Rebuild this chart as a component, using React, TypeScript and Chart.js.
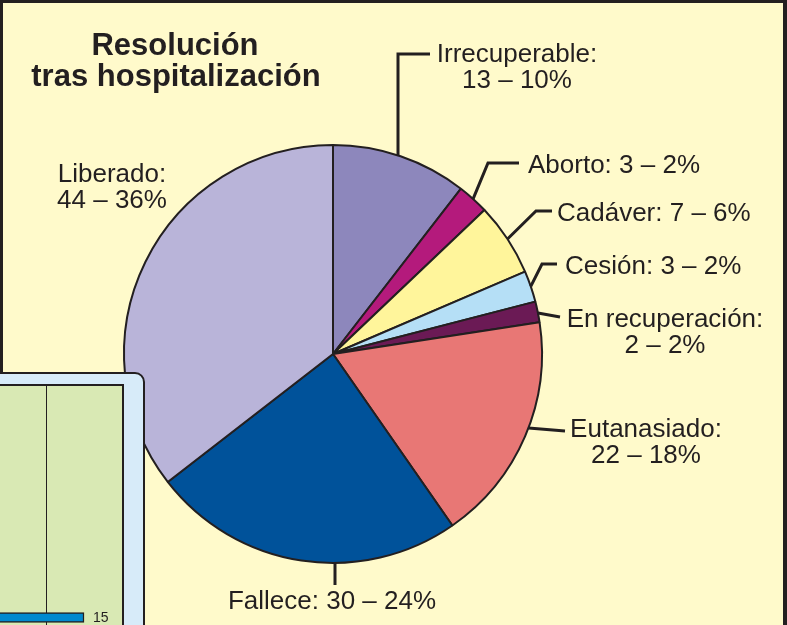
import React, { useEffect, useRef } from "react";
import { Chart, registerables } from "chart.js";

Chart.register(...registerables);

// ---------- data ----------
const titleLines = ["Resolución", "tras hospitalización"];
const categories = [
  "Irrecuperable",
  "Aborto",
  "Cadáver",
  "Cesión",
  "En recuperación",
  "Eutanasiado",
  "Fallece",
  "Liberado",
];
const counts = [13, 3, 7, 3, 2, 22, 30, 44];
const percents = [10, 2, 6, 2, 2, 18, 24, 36];
const sliceColors = [
  "#8D87BC",
  "#B41A7C",
  "#FFF59B",
  "#B5DFF6",
  "#6B1A55",
  "#E87775",
  "#00529A",
  "#B9B4D9",
];

// inset (partial second chart)
const insetCategories = [""];
const insetValues = [15];
const insetMax = 20;
const insetStep = 10;

// ---------- styling / layout ----------
const INK = "#231F20";
const BG = "#FFFACB";
const FONT = '"Liberation Sans", Arial, Helvetica, sans-serif';

type LabelLayout = {
  leader?: number[][];
  vertical?: boolean;
  atY?: number;
  x: number;
  y: number;
  twoLines: boolean;
  align?: CanvasTextAlign;
};

const labelLayout: LabelLayout[] = [
  { leader: [[398, 54], [430, 54]], vertical: true, x: 517, y: 62, twoLines: true },
  { leader: [[488, 163], [519, 163]], x: 528, y: 173, twoLines: false },
  { leader: [[536, 211], [552, 211]], x: 557, y: 221, twoLines: false },
  { leader: [[542, 264], [557, 264]], x: 565, y: 274, twoLines: false },
  { leader: [[560, 317]], atY: 313, x: 665, y: 327, twoLines: true },
  { leader: [[565, 431]], atY: 428, x: 646, y: 437, twoLines: true },
  { leader: [[335, 585]], vertical: true, x: 332, y: 609, twoLines: false, align: "center" },
  { x: 112, y: 182, twoLines: true },
];

const labelPlugin = {
  id: "pieLabels",
  afterDraw(chart: any) {
    const ctx: CanvasRenderingContext2D = chart.ctx;
    const meta = chart.getDatasetMeta(0);
    ctx.save();
    ctx.strokeStyle = INK;
    ctx.fillStyle = INK;
    ctx.lineWidth = 3;
    ctx.lineCap = "butt";
    ctx.lineJoin = "miter";
    ctx.font = `26px ${FONT}`;
    meta.data.forEach((arc: any, i: number) => {
      const L = labelLayout[i];
      if (!L) return;
      const { x: cx, y: cy, startAngle, endAngle, outerRadius } = arc.getProps(
        ["x", "y", "startAngle", "endAngle", "outerRadius"],
        true
      );
      if (L.leader) {
        const first = L.leader[0];
        let sx: number;
        let sy: number;
        if (L.vertical) {
          const dx = first[0] - cx;
          const dy = Math.sqrt(Math.max(outerRadius * outerRadius - dx * dx, 0));
          sx = first[0];
          sy = first[1] < cy ? cy - dy : cy + dy;
        } else if (L.atY !== undefined) {
          const dy = L.atY - cy;
          const dx = Math.sqrt(Math.max(outerRadius * outerRadius - dy * dy, 0));
          sx = first[0] > cx ? cx + dx : cx - dx;
          sy = L.atY;
        } else {
          const a = (startAngle + endAngle) / 2;
          sx = cx + Math.cos(a) * outerRadius;
          sy = cy + Math.sin(a) * outerRadius;
        }
        ctx.beginPath();
        ctx.moveTo(sx, sy);
        L.leader.forEach((p) => ctx.lineTo(p[0], p[1]));
        ctx.stroke();
      }
      const name = categories[i];
      const val = `${counts[i]} – ${percents[i]}%`;
      ctx.textBaseline = "alphabetic";
      if (L.twoLines) {
        ctx.textAlign = "center";
        ctx.fillText(`${name}:`, L.x, L.y);
        ctx.fillText(val, L.x, L.y + 26);
      } else {
        ctx.textAlign = L.align || "left";
        ctx.fillText(`${name}: ${val}`, L.x, L.y);
      }
    });
    ctx.font = `bold 31px ${FONT}`;
    ctx.textAlign = "center";
    ctx.textBaseline = "alphabetic";
    ctx.fillText(titleLines[0], 175, 55);
    ctx.fillText(titleLines[1], 176, 86);
    ctx.restore();
  },
};

const insetLabelPlugin = {
  id: "insetLabels",
  afterDatasetsDraw(chart: any) {
    const ctx: CanvasRenderingContext2D = chart.ctx;
    const meta = chart.getDatasetMeta(0);
    ctx.save();
    ctx.fillStyle = INK;
    ctx.font = `14px ${FONT}`;
    ctx.textAlign = "left";
    ctx.textBaseline = "middle";
    meta.data.forEach((bar: any, i: number) => {
      ctx.fillText(String(insetValues[i]), bar.x + 9, bar.y + 1);
    });
    ctx.restore();
  },
};

export default function App() {
  const pieRef = useRef<HTMLCanvasElement | null>(null);
  const insetRef = useRef<HTMLCanvasElement | null>(null);

  useEffect(() => {
    if (!pieRef.current || !insetRef.current) return;
    const pie = new Chart(pieRef.current, {
      type: "pie",
      data: {
        labels: categories,
        datasets: [
          {
            data: counts,
            backgroundColor: sliceColors,
            borderColor: INK,
            borderWidth: 2,
            borderAlign: "center",
          },
        ],
      },
      options: {
        responsive: false,
        animation: false,
        layout: { padding: { left: 123, right: 244, top: 144, bottom: 61 } },
        plugins: { legend: { display: false }, tooltip: { enabled: false } },
      },
      plugins: [labelPlugin],
    } as any);

    const inset = new Chart(insetRef.current, {
      type: "bar",
      data: {
        labels: insetCategories,
        datasets: [
          {
            data: insetValues,
            backgroundColor: "#0089CF",
            borderColor: INK,
            borderWidth: 1.5,
            barThickness: 10,
          },
        ],
      },
      options: {
        indexAxis: "y",
        responsive: false,
        animation: false,
        layout: { padding: 0 },
        plugins: { legend: { display: false }, tooltip: { enabled: false } },
        scales: {
          x: {
            min: 0,
            max: insetMax,
            ticks: { display: false, stepSize: insetStep },
            grid: {
              drawTicks: false,
              lineWidth: 1,
              color: (c: any) => (c.tick && c.tick.value === insetStep ? INK : "rgba(0,0,0,0)"),
            },
            border: { display: false },
          },
          y: { display: false },
        },
      },
      plugins: [insetLabelPlugin],
    } as any);

    return () => {
      pie.destroy();
      inset.destroy();
    };
  }, []);

  return (
    <div
      style={{
        position: "fixed",
        left: 0,
        top: 0,
        width: 787,
        height: 625,
        overflow: "hidden",
        background: BG,
      }}
    >
      <div
        style={{
          position: "absolute",
          left: 0,
          top: 0,
          width: 787,
          height: 700,
          boxSizing: "border-box",
          borderTop: `3px solid ${INK}`,
          borderLeft: `3px solid ${INK}`,
          borderRight: `4px solid ${INK}`,
        }}
      />
      <canvas
        ref={pieRef}
        width={787}
        height={625}
        style={{ position: "absolute", left: 0, top: 0, width: 787, height: 625 }}
      />
      <div
        style={{
          position: "absolute",
          left: -20,
          top: 372,
          width: 165,
          height: 400,
          boxSizing: "border-box",
          background: "#D7EBF9",
          border: `2.5px solid ${INK}`,
          borderRadius: 10,
        }}
      />
      <div
        style={{
          position: "absolute",
          left: -20,
          top: 384,
          width: 144,
          height: 400,
          boxSizing: "border-box",
          background: "#D9E9B4",
          border: `2.5px solid ${INK}`,
        }}
      />
      <canvas
        ref={insetRef}
        width={152}
        height={465}
        style={{ position: "absolute", left: -30, top: 385, width: 152, height: 465 }}
      />
    </div>
  );
}
